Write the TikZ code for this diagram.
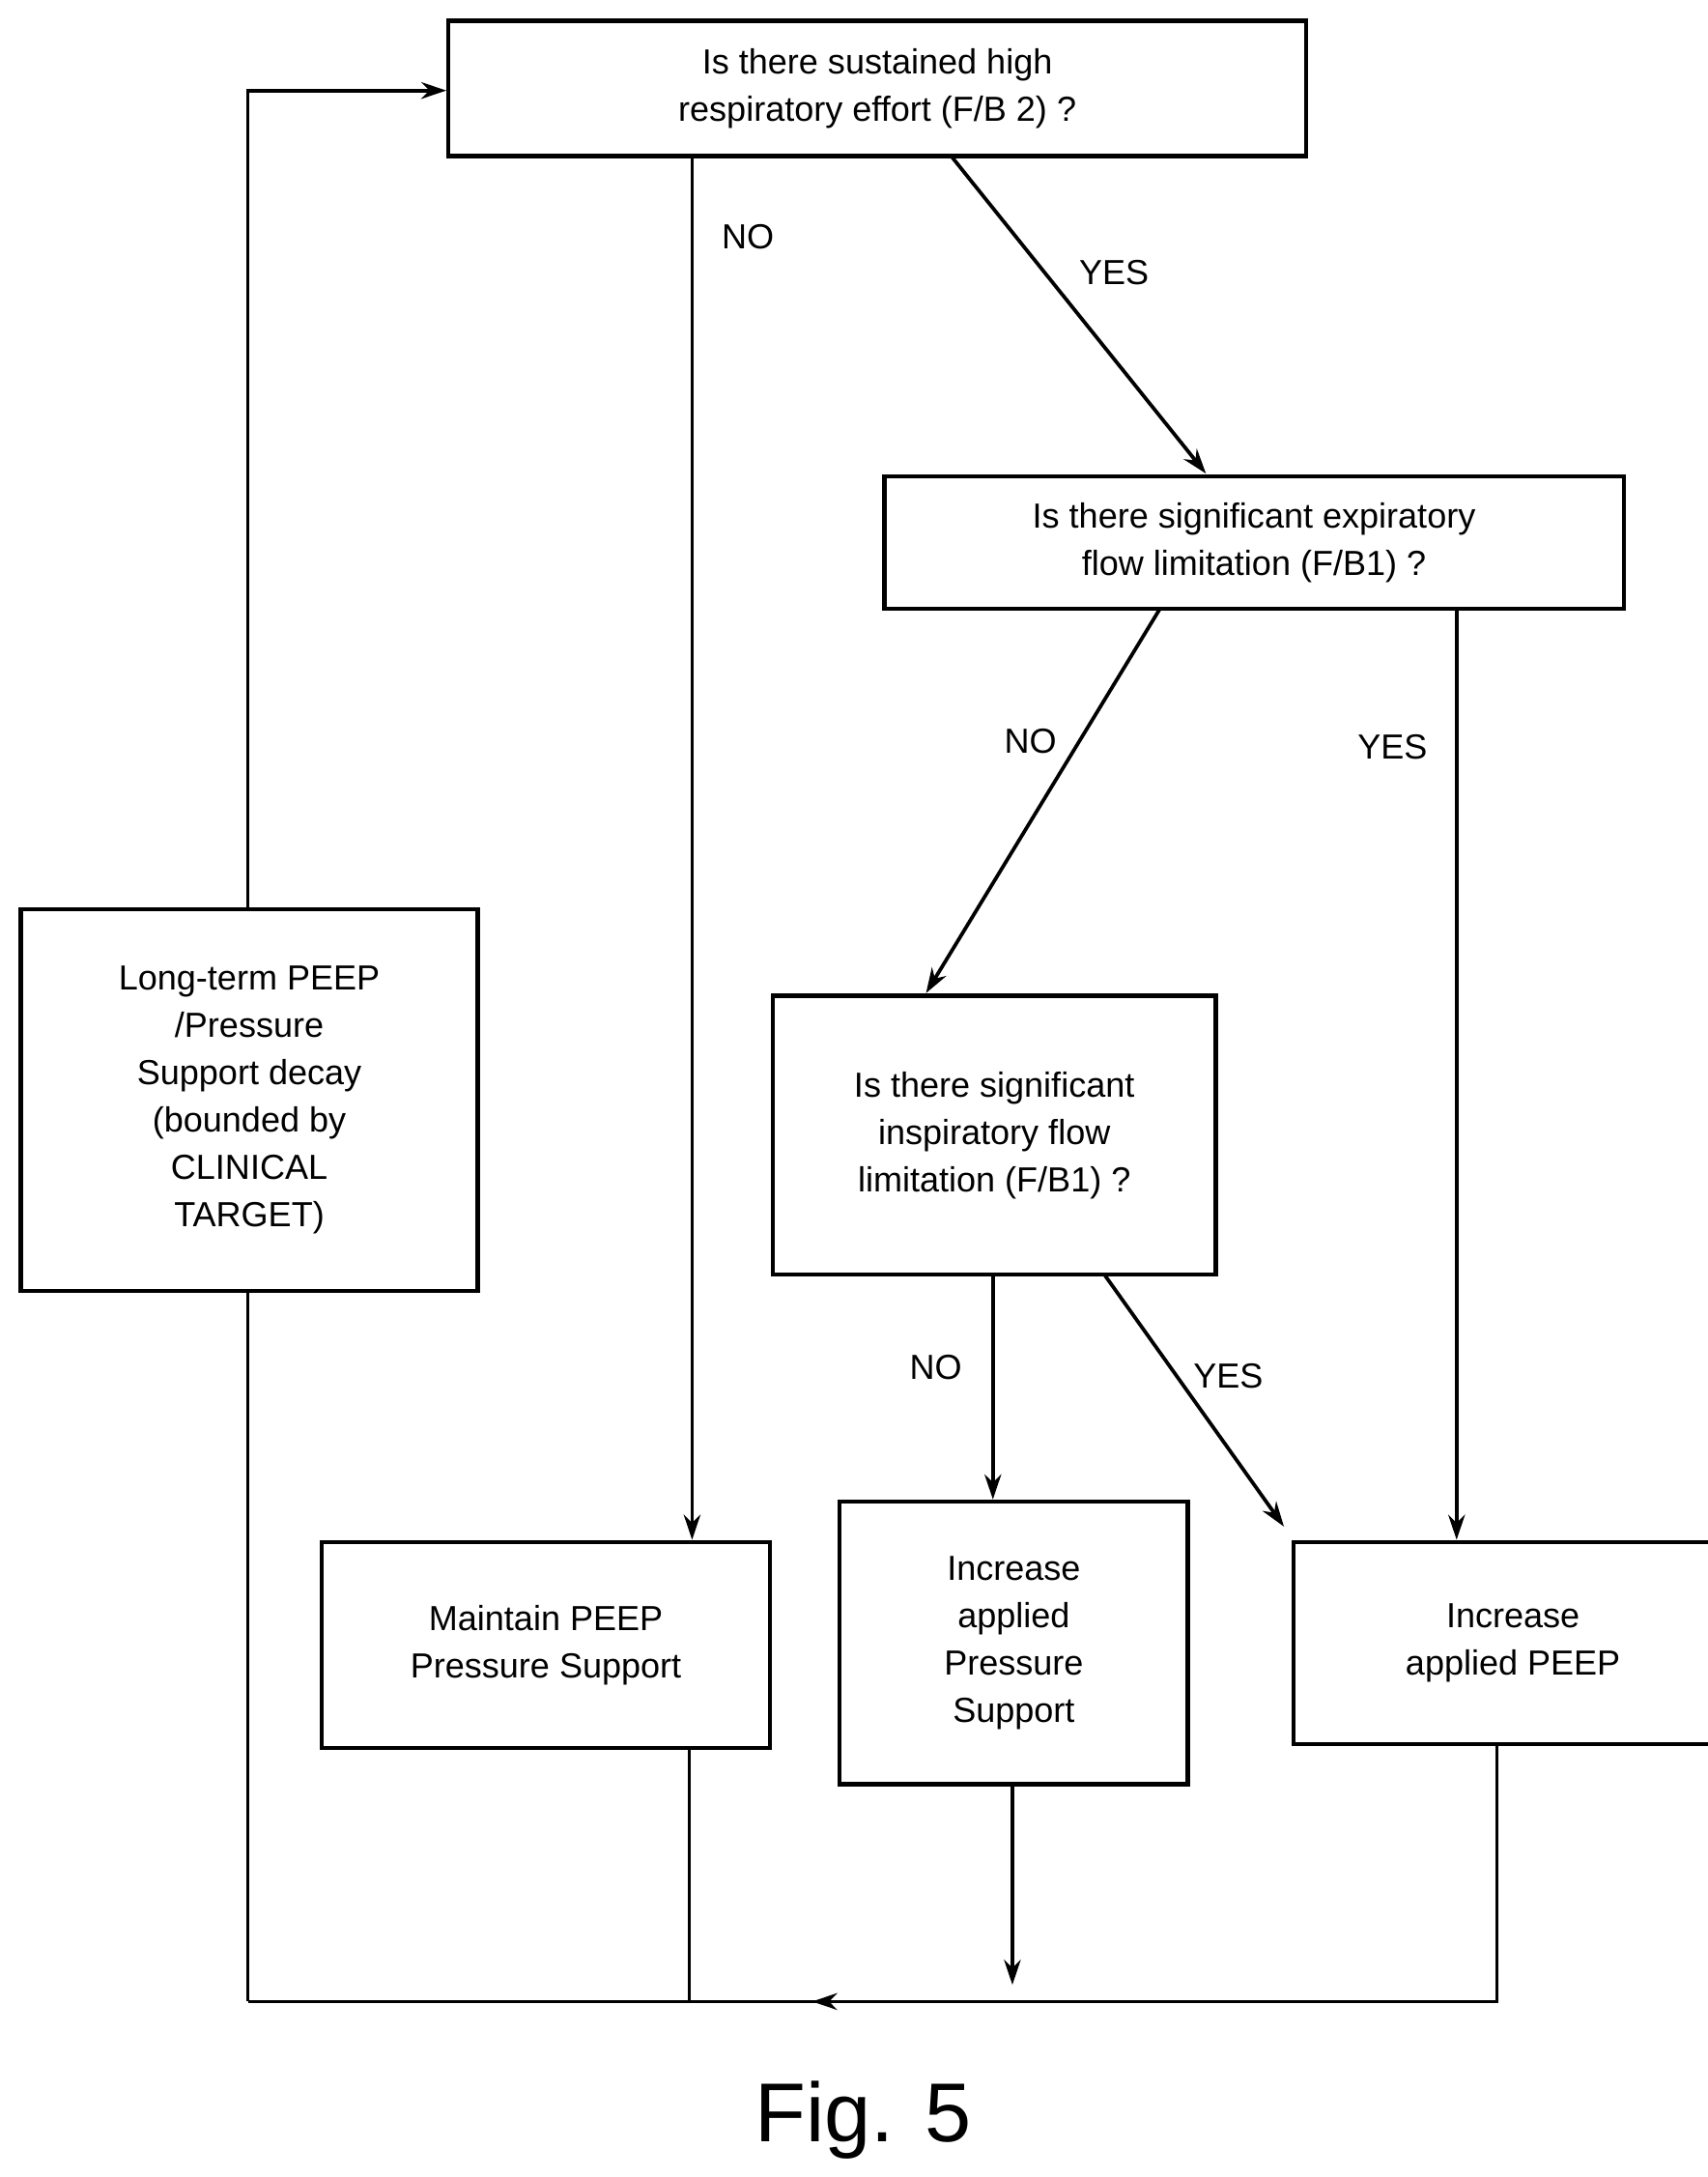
\documentclass[tikz,border=0pt]{standalone}
\usepackage{fontspec}
\setmainfont{Liberation Sans}
\usetikzlibrary{arrows.meta,decorations.markings}
\begin{document}
\begin{tikzpicture}[x=0.5pt,y=-0.5pt,
 box/.style={draw,line width=1.5pt,align=center,font=\fontsize{12.5}{17}\selectfont,inner sep=0},
 arr/.style={line width=1.3pt,-{Stealth[length=9pt,width=6pt]}},
 ln/.style={line width=1.3pt},
 lab/.style={font=\fontsize{12.5}{15}\selectfont}]
\useasboundingbox (0,0) rectangle (1226,1563);
\node[box,minimum width=308pt,minimum height=48.5pt] (A) at (630,63.5) {Is there sustained high\\respiratory effort (F/B 2) ?};
\node[box,minimum width=265.5pt,minimum height=47.5pt] (B) at (900.5,389.5) {Is there significant expiratory\\flow limitation (F/B1) ?};
\node[box,minimum width=159pt,minimum height=100pt] (C) at (714,815) {Is there significant\\inspiratory flow\\limitation (F/B1) ?};
\node[box,minimum width=164pt,minimum height=137pt] (D) at (179,790) {Long-term PEEP\\/Pressure\\Support decay\\(bounded by\\CLINICAL\\TARGET)};
\node[box,minimum width=161pt,minimum height=74pt] (E) at (392,1181) {Maintain PEEP\\Pressure Support};
\node[box,minimum width=125pt,minimum height=101.5pt] (F) at (728,1179.5) {Increase\\applied\\Pressure\\Support};
\node[box,minimum width=157.5pt,minimum height=72.5pt] (G) at (1086.5,1179.5) {Increase\\applied PEEP};
\coordinate (Fo) at (727,1425);
\coordinate (bl) at (178,1437);
\coordinate (br) at (1075,1437);
\coordinate (tl) at (178,65);
\draw[arr] (A.south -| 497,0) -- (E.north -| 497,0);
\draw[arr] (683,112) -- (866,340);
\draw[arr] (833,437) -- (665,713);
\draw[arr] (B.south -| 1046,0) -- (G.north -| 1046,0);
\draw[arr] (C.south -| 713,0) -- (F.north -| 713,0);
\draw[arr] (793,915) -- (922,1096);
\draw[arr] (F.south -| 727,0) -- (Fo);
\draw[ln] (E.south -| 495,0) -- (495,1437);
\draw[ln,postaction={decorate},decoration={markings,mark=at position 0.625 with {\arrow{Stealth[length=9pt,width=6pt]}}}] (G.south -| br) -- (br) -- (bl);
\draw[ln] (bl) -- (D.south -| bl);
\draw[arr] (D.north -| tl) -- (tl) -- (A.west |- tl);
\node[lab] at (537,170) {NO};
\node[lab] at (800,196) {YES};
\node[lab] at (740,532) {NO};
\node[lab] at (1000,536) {YES};
\node[lab] at (672,982) {NO};
\node[lab] at (882,988) {YES};
\node[font=\fontsize{30}{34}\selectfont] at (620,1522) {Fig. 5};
\end{tikzpicture}
\end{document}
